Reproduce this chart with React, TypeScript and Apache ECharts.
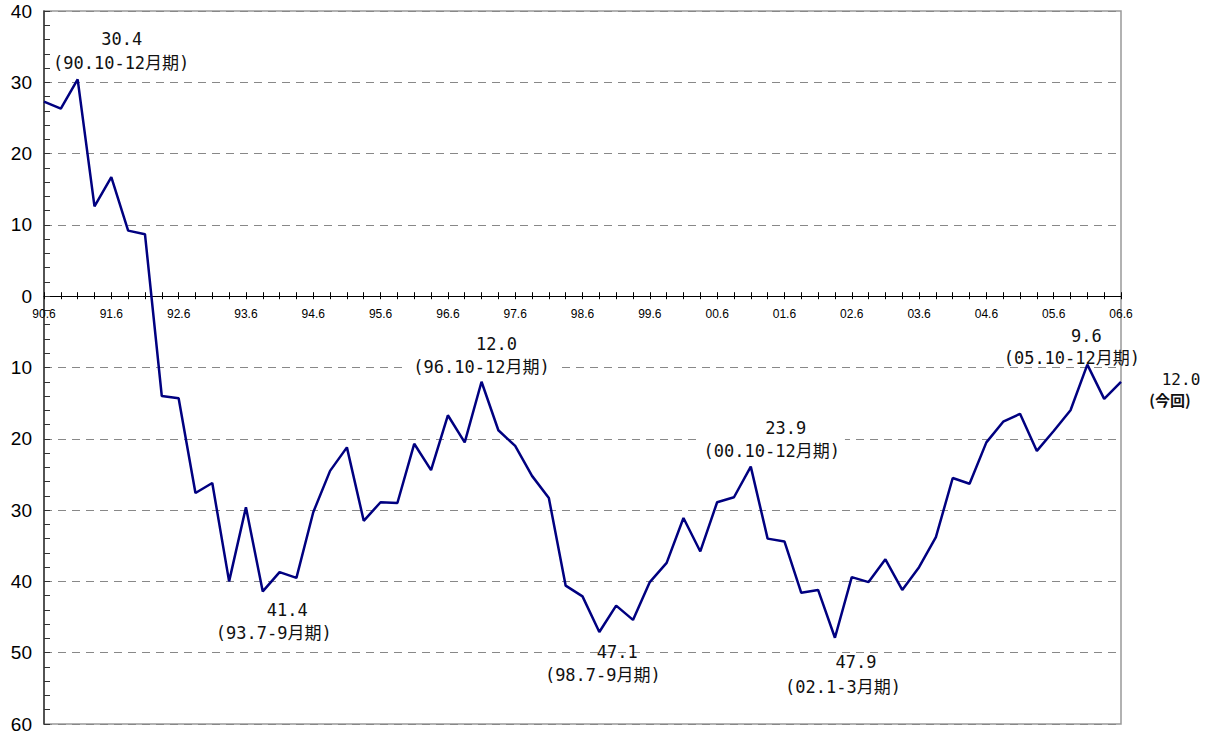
import React, { useEffect, useRef } from "react";
import * as echarts from "echarts";

const quarters = [
  "90.6", "90.9", "90.12",
  "91.3", "91.6", "91.9", "91.12",
  "92.3", "92.6", "92.9", "92.12",
  "93.3", "93.6", "93.9", "93.12",
  "94.3", "94.6", "94.9", "94.12",
  "95.3", "95.6", "95.9", "95.12",
  "96.3", "96.6", "96.9", "96.12",
  "97.3", "97.6", "97.9", "97.12",
  "98.3", "98.6", "98.9", "98.12",
  "99.3", "99.6", "99.9", "99.12",
  "00.3", "00.6", "00.9", "00.12",
  "01.3", "01.6", "01.9", "01.12",
  "02.3", "02.6", "02.9", "02.12",
  "03.3", "03.6", "03.9", "03.12",
  "04.3", "04.6", "04.9", "04.12",
  "05.3", "05.6", "05.9", "05.12",
  "06.3", "06.6",
];

const values = [
  27.3, 26.3, 30.4, 12.6, 16.7, 9.2, 8.7, -14.0, -14.3, -27.6, -26.2, -40.0, -29.6,
  -41.4, -38.7, -39.5, -30.3, -24.5, -21.2, -31.5, -28.9, -29.0, -20.7, -24.4, -16.7,
  -20.5, -12.0, -18.8, -21.0, -25.2, -28.3, -40.6, -42.1, -47.1, -43.4, -45.4, -40.1,
  -37.4, -31.1, -35.8, -28.9, -28.2, -23.9, -34.0, -34.4, -41.6, -41.2, -47.9, -39.4,
  -40.1, -36.9, -41.2, -38.0, -33.8, -25.5, -26.3, -20.5, -17.6, -16.5, -21.7, -18.9,
  -16.0, -9.6, -14.4, -12.0,
];

const yMin = -60;
const yMax = 40;
const yStep = 10;

const annotationIndex = [2, 13, 26, 33, 42, 47, 62, 64];
const annotationPeriod = [
  "(90.10-12月期)",
  "(93.7-9月期)",
  "(96.10-12月期)",
  "(98.7-9月期)",
  "(00.10-12月期)",
  "(02.1-3月期)",
  "(05.10-12月期)",
  "(今回)",
];

// layout (text centre offsets relative to the point, in px)
const numberOffset: Record<number, [number, number]> = {
  2: [44, -40],
  13: [24.5, 19],
  26: [15, -38],
  33: [18, 20],
  42: [35, -39],
  47: [21, 24],
  62: [-1, -29],
  64: [60, -2],
};
const periodOffset: Record<number, [number, number]> = {
  2: [43.5, -16],
  13: [11, 42],
  26: [-1, -15],
  33: [4, 43],
  42: [20, -16],
  47: [5, 49],
  62: [-15.5, -7],
  64: [49, 18],
};
// white boxes [top, right, bottom, left]
const periodBox: Record<number, [number, number, number, number]> = {
  26: [4, 7, 4, 9],
  33: [18, 5, 4, 4],
  42: [10, 5, 3, 7],
  47: [26, 5, 3, 11],
};

const MONO = "'DejaVu Sans Mono', 'Noto Sans CJK JP', monospace";
const SANS = "'Liberation Sans', Arial, sans-serif";

const W = 1212;
const H = 738;
const GRID = { left: 44, right: 91, top: 11, bottom: 14 };

export default function App() {
  const ref = useRef<HTMLDivElement>(null);

  useEffect(() => {
    if (!ref.current) return;
    const chart = echarts.init(ref.current, undefined, { renderer: "svg" });

    const gridH = H - GRID.top - GRID.bottom;
    const zeroOffset = -gridH * ((0 - yMin) / (yMax - yMin));

    const numberData = values.map((v, i) => {
      const k = annotationIndex.indexOf(i);
      if (k < 0) return v;
      return {
        value: v,
        label: {
          show: true,
          position: "inside",
          offset: numberOffset[i],
          formatter: Math.abs(v).toFixed(1),
          fontFamily: MONO,
          fontSize: i === 64 ? 16 : 17,
          lineHeight: i === 64 ? 14 : 20,
          color: "#111",
        },
      };
    });

    const periodData = values.map((v, i) => {
      const k = annotationIndex.indexOf(i);
      if (k < 0) return v;
      const box = periodBox[i];
      const lbl: any = {
        show: true,
        position: "inside",
        formatter: annotationPeriod[k],
        fontFamily: i === 64 ? "'Noto Sans CJK JP', sans-serif" : MONO,
        fontSize: i === 64 ? 15 : 17,
        lineHeight: i === 64 ? 15 : 20,
        fontWeight: i === 64 ? "bold" : "normal",
        color: "#111",
        offset: periodOffset[i],
      };
      if (box) {
        lbl.backgroundColor = "#ffffff";
        lbl.padding = box;
      }
      return { value: v, label: lbl };
    });

    const option: any = {
      animation: false,
      backgroundColor: "#ffffff",
      grid: {
        left: GRID.left,
        right: GRID.right,
        top: GRID.top,
        bottom: GRID.bottom,
        show: true,
        borderColor: "#999",
        borderWidth: 1.5,
        containLabel: false,
        outerBoundsMode: "none",
      },
      xAxis: [
        {
          type: "category",
          data: quarters,
          boundaryGap: false,
          position: "bottom",
          offset: zeroOffset,
          axisLine: { show: true, onZero: false, lineStyle: { color: "#000", width: 1.2 } },
          axisTick: { show: true, inside: false, length: 3, interval: 0, lineStyle: { color: "#000" } },
          axisLabel: {
            interval: 3,
            fontFamily: SANS,
            fontSize: 12,
            color: "#000",
            margin: 12,
          },
          splitLine: { show: false },
        },
        {
          type: "category",
          data: quarters,
          boundaryGap: false,
          position: "bottom",
          offset: zeroOffset,
          axisLine: { show: false, onZero: false },
          axisTick: { show: true, inside: true, length: 4, interval: 0, lineStyle: { color: "#000" } },
          axisLabel: { show: false },
          splitLine: { show: false },
        },
      ],
      yAxis: {
        type: "value",
        min: yMin,
        max: yMax,
        interval: yStep,
        axisLine: { show: true, onZero: false, lineStyle: { color: "#333", width: 1.5 } },
        axisTick: { show: true, inside: true, length: 6, lineStyle: { color: "#333" } },
        minorTick: { show: true, splitNumber: 5, length: 6, lineStyle: { color: "#333" } },
        axisLabel: {
          formatter: (v: number) => String(Math.abs(v)),
          fontFamily: SANS,
          fontSize: 19,
          color: "#000",
          margin: 12,
          padding: [6, 0, 0, 0],
        },
        splitLine: {
          show: true,
          lineStyle: { color: "#888", width: 1, type: [8, 6] },
        },
      },
      series: [
        {
          type: "line",
          name: "periods",
          data: periodData,
          xAxisIndex: 0,
          z: 1,
          silent: true,
          showSymbol: true,
          showAllSymbol: true,
          symbol: "circle",
          symbolSize: 1,
          itemStyle: { color: "rgba(0,0,0,0)" },
          lineStyle: { width: 0, opacity: 0 },
        },
        {
          type: "line",
          name: "DI",
          data: numberData,
          xAxisIndex: 0,
          z: 2,
          showSymbol: true,
          showAllSymbol: true,
          symbol: "circle",
          symbolSize: 1,
          itemStyle: { color: "rgba(0,0,0,0)" },
          lineStyle: { color: "#000080", width: 2.5 },
        },
      ],
    };

    chart.setOption(option);
    return () => chart.dispose();
  }, []);

  return (
    <div
      ref={ref}
      style={{ position: "fixed", left: 0, top: 0, width: W, height: H, background: "#fff" }}
    />
  );
}
